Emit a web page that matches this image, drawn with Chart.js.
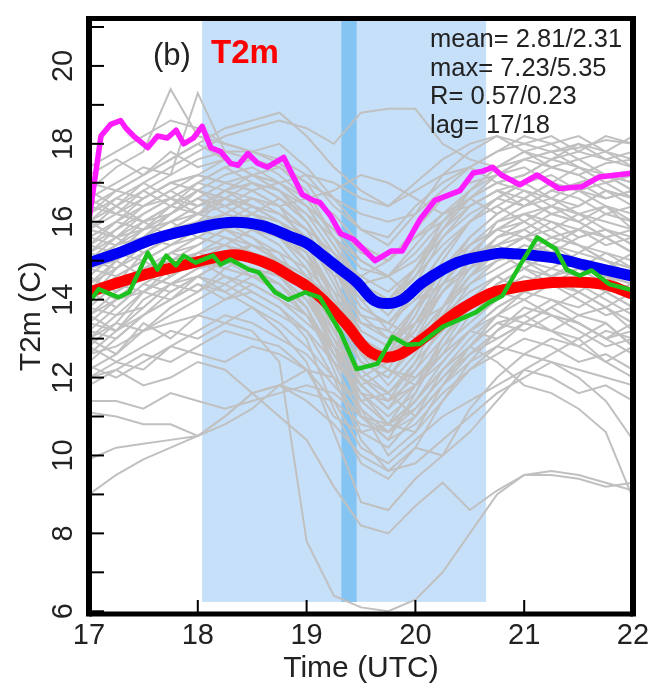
<!DOCTYPE html>
<html>
<head>
<meta charset="utf-8">
<script src="https://cdn.jsdelivr.net/npm/chart.js@4.4.1/dist/chart.umd.min.js"></script>
<style>
  html, body { margin: 0; padding: 0; background: #fff; }
  #chart { display: block; }
</style>
</head>
<body>
<canvas id="chart" width="651" height="690"></canvas>
<script>
// ensemble members, every 15 min from 17 to 22 UTC
const grayTimes = [17.0, 17.25, 17.5, 17.75, 18.0, 18.25, 18.5, 18.75, 19.0, 19.25, 19.5, 19.75, 20.0, 20.25, 20.5, 20.75, 21.0, 21.25, 21.5, 21.75, 22.0];
const grayMembers = [
    [17.4,17.8,18.2,18.6,18.4, 18.0,17.8,17.6,17.2,16.4, 15.8,15.6,16.4,17.0,17.4, 17.8,18.0,17.8,17.9,18.1, 18.0],
    [16.8,17.4,17.8,19.4,18.2, 18.0,17.8,17.5,17.0,16.0, 15.2,15.0,15.8,16.6,17.0, 17.2,17.6,17.4,17.2,17.5, 17.6],
    [16.2,16.8,17.2,17.6,18.0, 18.4,18.6,18.8,18.2,17.4, 16.8,16.4,17.0,17.6,18.0, 18.2,17.8,17.6,18.0,17.8, 17.4],
    [15.8,16.4,16.8,17.2,17.6, 17.8,17.6,17.4,16.8,15.6, 14.4,14.0,14.8,15.8,16.6, 17.2,17.4,17.0,16.8,17.2, 16.8],
    [15.4,16.0,16.6,17.0,17.2, 17.0,17.2,16.8,16.2,15.2, 14.2,13.6,14.4,15.6,16.4, 16.8,16.6,17.0,17.4,17.2, 17.0],
    [16.0,16.4,17.0,17.4,17.8, 18.2,18.4,18.6,18.4,18.0, 18.8,18.9,18.9,18.0,17.6, 17.4,17.8,18.0,17.6,17.8, 18.2],
    [15.0,15.6,16.2,16.6,17.0, 17.4,17.6,17.2,16.6,15.6, 14.8,14.6,15.4,16.2,16.8, 17.2,17.6,17.8,17.4,17.0, 16.6],
    [14.6,15.2,15.8,16.4,16.8, 16.6,17.0,16.8,16.0,14.8, 13.4,13.2,14.2,15.2,16.0, 16.4,16.8,16.6,16.2,16.4, 16.2],
    [16.4,16.2,16.6,17.0,16.8, 17.2,17.4,17.0,16.6,16.2, 15.4,15.0,15.6,16.0,16.6, 17.0,17.2,17.6,17.8,17.6, 17.4],
    [15.6,15.4,15.8,16.2,16.6, 16.4,16.8,16.4,15.8,14.6, 13.0,12.4,13.2,14.4,15.4, 16.0,16.2,16.4,16.0,15.6, 15.8],
    [15.2,15.6,15.8,16.0,16.4, 16.6,16.4,16.0,15.4,14.2, 12.8,12.6,13.6,14.8,15.4, 15.8,15.6,15.2,15.6,15.8, 15.4],
    [14.8,15.0,15.6,15.8,16.0, 16.2,16.0,15.8,15.0,13.8, 12.4,12.0,13.0,14.2,15.0, 15.6,15.8,16.2,16.0,15.6, 15.2],
    [14.4,14.8,15.2,15.6,15.8, 16.0,16.2,16.0,15.6,14.8, 13.8,13.4,14.0,14.8,15.2, 15.4,15.0,14.8,15.2,15.0, 14.8],
    [14.0,14.6,15.0,15.4,15.6, 15.4,15.8,15.6,15.2,14.0, 12.6,11.8,12.6,13.8,14.6, 15.0,15.4,15.2,14.8,14.6, 14.4],
    [13.6,14.2,14.8,15.2,15.6, 16.0,15.8,15.4,14.6,13.2, 11.8,11.2,12.2,13.4,14.4, 15.0,15.2,15.6,15.4,15.0, 14.6],
    [15.0,14.8,15.4,15.8,16.2, 16.8,17.0,16.6,16.0,15.0, 14.0,13.8,14.6,15.4,16.0, 16.4,16.0,15.6,15.8,16.2, 16.0],
    [14.2,14.4,14.8,15.0,15.4, 15.8,16.0,15.6,14.8,13.4, 11.0,10.4,11.6,13.0,14.0, 14.6,15.0,14.6,14.2,14.6, 14.2],
    [13.8,13.6,14.2,14.8,15.2, 15.4,15.2,14.8,14.2,13.2, 12.2,11.6,12.4,13.2,13.8, 14.2,14.6,14.4,14.0,13.6, 13.8],
    [14.6,15.2,15.0,15.4,15.8, 15.6,15.2,15.0,14.4,13.0, 11.4,10.8,11.8,13.0,13.8, 14.4,14.8,15.2,15.0,14.6, 14.2],
    [15.4,15.8,16.2,16.6,16.2, 16.4,16.6,16.2,15.8,15.2, 14.6,14.2,14.8,15.6,16.2, 16.6,16.4,16.8,16.6,16.2, 16.4],
    [13.2,13.8,14.4,14.8,15.0, 15.2,15.0,14.6,14.0,12.8, 11.2,10.0,10.6,11.8,12.8, 13.6,14.2,14.0,13.6,13.8, 13.4],
    [14.4,14.0,14.6,15.0,15.2, 15.6,15.4,15.2,14.8,14.0, 13.2,12.8,13.4,14.2,14.8, 15.2,15.6,15.8,15.4,15.2, 15.0],
    [15.8,16.2,16.0,16.4,17.0, 16.8,16.4,16.0,15.6,14.8, 13.6,13.0,13.8,14.8,15.6, 16.2,16.6,16.2,16.0,16.4, 15.8],
    [13.4,14.0,14.2,14.6,15.0, 14.8,14.6,14.2,13.6,12.6, 11.6,11.4,12.0,12.8,13.4, 14.0,14.4,14.8,14.6,14.2, 13.8],
    [14.8,15.4,15.6,15.4,15.8, 16.2,16.6,16.4,15.8,14.6, 13.2,12.8,13.8,14.8,15.4, 15.8,16.2,16.0,15.6,15.8, 15.6],
    [12.4,13.0,13.6,14.2,14.6, 15.0,14.8,14.4,13.6,12.4, 11.0,10.6,11.4,12.4,13.2, 13.8,14.2,14.6,14.4,14.0, 13.6],
    [13.0,12.6,13.2,13.8,14.2, 14.6,14.4,14.0,13.6,12.8, 11.8,11.2,11.8,12.6,13.2, 13.6,13.4,13.8,14.2,13.8, 13.2],
    [12.8,13.4,13.2,13.6,14.0, 14.4,14.8,14.6,14.0,13.0, 12.0,11.6,12.2,13.0,13.8, 14.4,14.8,15.2,15.0,14.6, 14.4],
    [12.2,12.6,13.4,13.0,13.6, 14.0,14.2,13.8,13.2,12.0, 10.4,9.6,10.2,11.4,12.4, 13.2,13.8,13.6,13.2,12.8, 13.0],
    [12.0,12.4,12.2,12.8,13.2, 13.6,13.4,13.0,12.6,11.8, 11.0,10.8,11.2,12.0,12.8, 13.4,13.6,13.2,13.0,13.4, 12.8],
    [11.4,11.4,11.2,11.6,11.4, 11.2,11.4,11.6,11.8,11.6, 11.0,10.4,10.8,11.6,12.2, 12.6,13.0,12.8,12.4,12.6, 12.2],
    [11.1,11.0,10.8,10.8,10.5, 10.8,11.2,11.8,12.2,12.0, 11.2,10.6,11.0,11.8,12.4, 12.8,12.6,13.0,12.8,12.4, 12.0],
    [9.9,10.2,10.3,10.4,10.5, 11.0,11.6,11.8,11.4,10.8, 10.0,9.6,9.8,10.4,11.0, 11.6,12.0,12.4,12.2,12.0, 11.8],
    [9.0,9.5,9.9,10.2,10.5, 11.0,11.6,11.8,11.6,11.4, 10.2,9.8,10.4,11.0,11.4, 11.8,12.2,12.0,11.6,11.8, 11.4],
    [12.3,12.0,12.4,12.8,12.6, 12.4,12.8,12.6,12.2,11.4, 10.8,10.6,11.2,12.0,12.6, 13.0,13.4,13.2,12.8,13.2, 13.0],
    [12.6,12.8,13.2,13.4,13.6, 13.4,13.2,12.4,7.8,6.4, 6.1,6.0,6.3,7.0,8.0, 9.0,9.5,9.6,9.5,9.3, 9.1],
    [12.0,12.2,11.8,12.0,12.4, 12.2,11.6,11.0,10.4,9.2, 8.2,8.0,8.7,9.3,8.6, 9.1,9.5,9.5,9.4,9.2, 9.3],
    [13.2,13.0,13.6,14.0,14.4, 14.2,13.8,13.2,12.4,10.6, 8.8,8.6,9.4,10.0,10.6, 11.4,12.2,12.6,13.0,12.4, 12.8],
    [14.0,14.4,14.2,14.6,15.0, 14.6,14.2,13.8,13.0,11.2, 9.8,9.4,10.2,10.0,11.2, 12.0,12.6,12.4,12.0,11.4, 10.4],
    [13.6,14.0,14.6,14.4,14.8, 15.0,14.8,14.4,13.8,12.6, 11.4,10.8,11.4,12.2,12.8, 12.4,11.8,11.6,11.2,10.6, 8.9],
    [16.6,17.0,17.4,17.2,19.3, 17.8,17.8,18.0,17.4,16.6, 15.8,15.4,16.2,17.2,17.8, 18.2,18.0,18.2,17.8,18.2, 18.0],
    [15.2,15.8,16.4,16.8,16.4, 16.8,17.2,17.0,16.4,15.4, 14.2,13.8,14.8,16.0,16.8, 17.4,17.8,17.4,17.6,17.2, 17.0],
    [14.2,15.0,15.6,16.0,16.2, 16.6,16.4,16.2,15.6,14.4, 13.0,12.6,13.6,15.0,16.0, 16.6,17.0,17.2,16.8,16.6, 16.8],
    [16.0,16.6,16.4,16.8,17.2, 17.6,17.2,16.8,16.4,15.8, 15.0,14.6,15.2,16.0,16.6, 17.0,16.8,16.4,16.8,17.0, 17.2],
    [13.8,14.4,15.2,15.6,16.0, 15.8,16.2,15.8,15.2,13.6, 12.0,11.4,12.4,13.8,14.8, 15.6,16.0,16.4,16.2,15.8, 15.4],
    [15.6,16.0,15.8,16.2,16.6, 17.0,16.8,16.4,15.4,14.0, 12.6,12.2,13.4,14.6,15.6, 16.2,16.6,16.2,16.4,16.8, 16.6],
    [12.6,13.2,14.0,14.4,14.8, 15.2,15.4,15.0,14.4,13.4, 12.4,12.0,12.8,13.6,14.2, 14.6,14.2,14.4,14.8,14.4, 14.0],
    [13.0,13.6,13.8,14.4,14.6, 14.2,14.6,14.4,13.8,12.2, 10.6,10.2,11.0,12.2,13.0, 13.6,14.0,13.6,13.4,13.0, 12.6],
    [16.2,16.6,17.0,16.6,17.0, 17.4,17.0,16.6,16.0,15.0, 13.8,13.4,14.2,15.2,16.0, 16.6,17.0,17.4,17.2,16.8, 16.6],
    [14.6,14.2,14.6,15.2,15.4, 15.8,15.6,15.0,14.2,12.8, 11.6,11.0,11.6,12.8,13.8, 14.4,14.8,14.6,15.0,14.8, 14.6],
    [17.0,16.8,17.2,17.8,17.4, 17.6,17.2,17.0,16.4,15.4, 14.4,14.0,14.6,15.8,16.8, 17.4,17.6,17.8,18.0,17.6, 17.8],
    [15.0,15.4,16.0,16.2,16.8, 16.6,16.2,15.8,15.2,14.2, 13.0,12.6,13.2,14.2,15.0, 15.4,15.8,15.4,15.2,15.6, 15.2],
    [16.4,16.8,16.6,17.0,17.2, 17.0,16.8,17.0,17.2,17.0, 16.6,16.4,16.8,17.2,17.4, 17.0,17.2,17.6,17.4,17.0, 17.2],
    [15.6,16.0,16.4,16.6,16.4, 16.8,16.6,16.4,16.6,16.8, 17.2,17.0,16.6,16.2,16.4, 16.8,17.0,16.6,16.4,16.8, 16.4],
    [14.0,14.8,15.4,15.8,16.2, 16.0,15.6,15.2,14.2,12.6, 12.0,12.4,13.4,14.4,15.2, 15.8,16.0,15.6,15.4,15.0, 14.8],
    [15.2,15.0,15.6,16.2,16.6, 16.2,16.0,15.8,15.4,14.8, 14.0,13.2,12.8,13.6,14.6, 15.4,15.6,16.0,15.8,15.4, 15.6],
    [13.4,13.2,13.8,14.4,14.2, 14.8,15.2,14.8,14.2,13.0, 12.2,12.6,13.8,14.4,14.8, 15.2,14.8,14.4,14.6,14.2, 14.4],
    [16.6,16.2,16.8,16.4,16.8, 16.4,16.0,15.6,15.0,14.2, 13.6,13.4,13.0,13.8,15.0, 16.0,16.4,16.8,17.0,16.6, 16.8],
    [14.4,15.0,14.6,15.2,15.0, 15.4,15.0,14.6,13.8,12.4, 11.8,12.2,12.0,12.6,13.6, 14.2,14.0,14.4,14.2,13.8, 14.2],
    [12.8,12.4,12.8,13.2,13.0, 13.4,13.8,13.4,12.8,12.0, 11.4,11.6,11.0,11.8,12.6, 13.2,13.6,14.0,13.8,14.2, 13.8],
    [15.8,15.6,16.0,15.6,16.0, 16.6,16.2,16.6,16.2,15.6, 15.0,14.6,14.0,14.4,15.2, 15.8,16.2,15.8,16.2,16.0, 15.8],
    [13.6,13.2,13.6,14.0,14.6, 14.4,14.0,13.6,13.2,12.4, 11.6,10.8,10.6,11.4,12.2, 12.8,13.4,13.8,13.4,13.0, 13.4],
    [17.2,17.6,17.2,17.6,18.0, 17.6,17.2,17.4,17.0,16.6, 16.2,16.0,16.2,16.8,17.4, 17.8,18.2,18.0,18.2,17.8, 17.6],
    [14.8,14.6,15.0,14.6,15.2, 15.0,15.4,15.0,14.6,14.0, 13.4,13.0,13.4,13.8,14.4, 14.8,15.2,15.4,15.0,14.8, 15.2],
    [11.8,12.2,12.6,12.4,12.8, 13.2,13.0,12.8,12.2,11.0, 10.6,10.8,11.4,12.2,12.8, 13.4,13.2,13.6,13.4,13.0, 13.2],
    [16.0,15.6,15.2,15.6,16.0, 15.8,15.4,15.0,14.6,13.6, 12.8,12.4,13.0,13.8,14.6, 15.2,15.6,15.4,15.8,15.6, 15.2],
    [14.2,13.8,14.4,14.2,14.6, 15.0,14.6,14.8,14.2,13.4, 12.8,12.2,11.8,12.4,13.2, 13.8,14.2,14.6,14.8,15.2, 14.8],
    [15.4,15.2,15.6,16.0,15.6, 16.0,16.4,16.0,15.4,14.6, 14.6,15.0,15.6,16.2,16.6, 16.2,16.6,17.0,16.8,16.4, 16.0],
    [13.0,13.4,14.2,14.0,14.4, 14.0,14.4,14.0,13.4,12.8, 12.0,11.4,11.8,12.6,13.2, 13.0,13.4,13.2,13.6,13.4, 12.8],
    [16.8,16.4,16.0,16.4,16.2, 16.6,16.2,15.8,15.6,15.0, 14.4,14.6,15.0,15.8,16.4, 16.8,16.4,16.6,17.0,17.2, 16.8]
];

// ensemble mean (blue)
const blueTimes = [17.0, 17.27, 17.59, 17.89, 18.28, 18.59, 18.85, 19.0, 19.15, 19.3, 19.46, 19.61, 19.74, 19.88, 20.07, 20.38, 20.68, 20.8, 21.26, 21.57, 22.0];
const blueValues = [14.95, 15.2, 15.55, 15.77, 15.98, 15.9, 15.62, 15.45, 15.13, 14.8, 14.45, 14.0, 13.9, 14.0, 14.45, 14.95, 15.15, 15.2, 15.08, 14.88, 14.6];

// red
const redTimes = [17.0, 17.27, 17.59, 17.89, 18.25, 18.41, 18.68, 18.85, 19.0, 19.15, 19.37, 19.55, 19.7, 19.86, 20.07, 20.38, 20.68, 20.8, 21.26, 21.72, 22.0];
const redValues = [14.19, 14.44, 14.7, 14.9, 15.13, 15.13, 14.88, 14.6, 14.35, 14.0, 13.35, 12.73, 12.53, 12.6, 13.0, 13.68, 14.15, 14.25, 14.44, 14.4, 14.14];

// observation (green)
const greenTimes = [17.0, 17.09, 17.27, 17.37, 17.54, 17.63, 17.71, 17.8, 17.87, 17.98, 18.14, 18.21, 18.3, 18.47, 18.56, 18.71, 18.83, 18.99, 19.03, 19.12, 19.31, 19.46, 19.65, 19.79, 19.92, 20.04, 20.25, 20.56, 20.68, 20.8, 20.96, 21.12, 21.29, 21.39, 21.51, 21.62, 21.78, 22.0];
const greenValues = [13.93, 14.27, 14.06, 14.19, 15.2, 14.77, 15.13, 14.88, 15.13, 14.95, 15.13, 14.9, 15.03, 14.77, 14.7, 14.19, 14.0, 14.19, 14.14, 14.06, 13.17, 12.22, 12.35, 13.04, 12.84, 12.86, 13.3, 13.68, 13.93, 14.1, 14.88, 15.6, 15.3, 14.77, 14.62, 14.75, 14.4, 14.24];

// magenta
const magentaTimes = [17.0, 17.11, 17.2, 17.29, 17.34, 17.41, 17.54, 17.63, 17.72, 17.8, 17.87, 17.96, 18.04, 18.12, 18.21, 18.3, 18.37, 18.46, 18.55, 18.64, 18.79, 18.87, 18.96, 19.06, 19.12, 19.22, 19.31, 19.43, 19.63, 19.78, 19.88, 20.04, 20.18, 20.41, 20.53, 20.62, 20.71, 20.79, 20.96, 21.12, 21.32, 21.53, 21.69, 22.0];
const magentaValues = [16.05, 18.2, 18.5, 18.6, 18.4, 18.2, 17.9, 18.2, 18.15, 18.35, 18.0, 18.15, 18.45, 17.9, 17.8, 17.5, 17.45, 17.75, 17.5, 17.4, 17.65, 17.2, 16.7, 16.55, 16.5, 16.15, 15.7, 15.55, 15.0, 15.25, 15.25, 16.05, 16.55, 16.8, 17.25, 17.3, 17.4, 17.2, 16.95, 17.2, 16.85, 16.9, 17.15, 17.25];

// shaded periods (UTC)
const lightPeriod = [18.04, 20.65];
const darkPeriod = [19.32, 19.46];
const statLines = ['mean= 2.81/2.31', 'max= 7.23/5.35', 'R= 0.57/0.23', 'lag= 17/18'];

const FONT = '"Liberation Sans", Arial, sans-serif';

function toPoints(times, values) {
    return times.map((t, i) => ({ x: t, y: values[i] }));
}

const datasets = [];
datasets.push({ data: toPoints(magentaTimes, magentaValues), borderColor: '#ff1cff', borderWidth: 5.5, order: 1, borderJoinStyle: 'round' });
datasets.push({ data: toPoints(greenTimes, greenValues), borderColor: '#1ec21e', borderWidth: 4.5, order: 2, borderJoinStyle: 'round' });
datasets.push({ data: toPoints(redTimes, redValues), borderColor: '#ff0000', borderWidth: 11, order: 3, tension: 0.35, borderJoinStyle: 'round' });
datasets.push({ data: toPoints(blueTimes, blueValues), borderColor: '#0000f5', borderWidth: 11, order: 4, tension: 0.35, borderJoinStyle: 'round' });
grayMembers.forEach(m => {
    datasets.push({ data: toPoints(grayTimes, m), borderColor: '#c0c0c0', borderWidth: 2, order: 10 });
});

// Vẽ vùng tô nền, khung và nhãn chữ
const framePlugin = {
    id: 'frame',
    beforeDatasetsDraw(chart) {
        const { ctx, scales: { x, y } } = chart;
        const top = y.getPixelForValue(21.16);
        const bottom = y.getPixelForValue(6.24);
        ctx.save();
        ctx.fillStyle = '#c6e0fa';
        ctx.fillRect(x.getPixelForValue(lightPeriod[0]), top, x.getPixelForValue(lightPeriod[1]) - x.getPixelForValue(lightPeriod[0]), bottom - top);
        ctx.fillStyle = '#84c4f3';
        ctx.fillRect(x.getPixelForValue(darkPeriod[0]), top, x.getPixelForValue(darkPeriod[1]) - x.getPixelForValue(darkPeriod[0]), bottom - top);
        ctx.restore();
    },
    afterDatasetsDraw(chart) {
        const { ctx, chartArea: a, scales: { x, y } } = chart;
        ctx.save();
        ctx.strokeStyle = '#000';

        // inner ticks
        ctx.lineWidth = 2;
        y.ticks.forEach(t => {
            const py = y.getPixelForValue(t.value);
            ctx.beginPath();
            ctx.moveTo(a.left, py);
            ctx.lineTo(a.left + 15, py);
            ctx.stroke();
        });
        x.ticks.forEach(t => {
            const px = x.getPixelForValue(t.value);
            ctx.beginPath();
            ctx.moveTo(px, a.bottom);
            ctx.lineTo(px, a.bottom - 14);
            ctx.stroke();
        });

        // frame
        ctx.lineWidth = 5;
        ctx.beginPath();
        ctx.moveTo(a.left, a.top); ctx.lineTo(a.right, a.top);
        ctx.moveTo(a.left, a.bottom); ctx.lineTo(a.right, a.bottom);
        ctx.stroke();
        ctx.lineWidth = 6;
        ctx.beginPath();
        ctx.moveTo(a.left, a.top - 2.5); ctx.lineTo(a.left, a.bottom + 2.5);
        ctx.moveTo(a.right, a.top - 2.5); ctx.lineTo(a.right, a.bottom + 2.5);
        ctx.stroke();

        // labels
        ctx.textBaseline = 'alphabetic';
        ctx.fillStyle = '#222';
        ctx.font = '31px ' + FONT;
        ctx.fillText('(b)', 153, 65);
        ctx.fillStyle = '#ff0000';
        ctx.font = 'bold 33px ' + FONT;
        ctx.fillText('T2m', 211, 63);
        ctx.fillStyle = '#222';
        ctx.font = '25.5px ' + FONT;
        statLines.forEach((s, i) => ctx.fillText(s, 430, 47 + i * 28.7));
        ctx.restore();
    }
};

new Chart(document.getElementById('chart'), {
    type: 'line',
    data: { datasets: datasets },
    options: {
        responsive: false,
        animation: false,
        layout: { padding: { left: 0, top: 15, right: 18, bottom: 0 } },
        elements: {
            point: { radius: 0 },
            line: { tension: 0, fill: false }
        },
        plugins: {
            legend: { display: false },
            tooltip: { enabled: false }
        },
        scales: {
            x: {
                type: 'linear',
                min: 17,
                max: 22,
                afterFit: s => { s.height = 76; },
                grid: { display: false },
                border: { display: false },
                ticks: {
                    stepSize: 1,
                    includeBounds: false,
                    autoSkip: false,
                    maxRotation: 0,
                    padding: -3,
                    color: '#222',
                    font: { family: FONT, size: 29 }
                },
                title: {
                    display: true,
                    text: 'Time (UTC)',
                    color: '#222',
                    font: { family: FONT, size: 30 },
                    padding: { top: 0, bottom: 3 }
                }
            },
            y: {
                type: 'linear',
                min: 5.93,
                max: 21.22,
                afterFit: s => { s.width = 89; },
                grid: { display: false },
                border: { display: false },
                ticks: {
                    stepSize: 1,
                    includeBounds: false,
                    autoSkip: false,
                    minRotation: 90,
                    maxRotation: 90,
                    crossAlign: 'center',
                    padding: 1,
                    color: '#222',
                    font: { family: FONT, size: 29 },
                    callback: v => (Math.abs(v % 2) < 1e-6 ? String(v) : '')
                },
                title: {
                    display: true,
                    text: 'T2m (C)',
                    color: '#222',
                    font: { family: FONT, size: 30 },
                    padding: { top: 14, bottom: 0 }
                }
            }
        }
    },
    plugins: [framePlugin]
});
</script>
</body>
</html>
